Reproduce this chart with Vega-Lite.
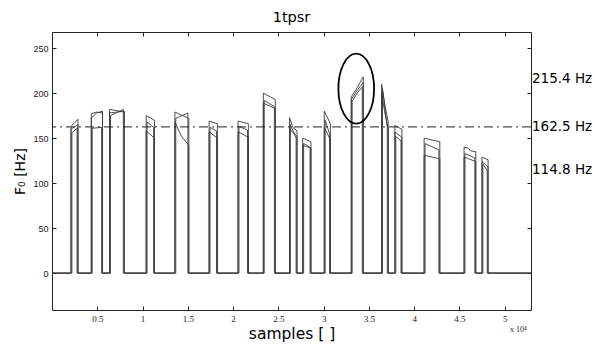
{
  "$schema": "https://vega.github.io/schema/vega-lite/v6.json",
  "width": 479,
  "height": 278,
  "autosize": {"type": "none"},
  "padding": {"left": 52, "top": 32, "right": 64, "bottom": 39},
  "background": "white",
  "title": {"text": "1tpsr", "font": "DejaVu Sans", "fontSize": 14.5, "fontWeight": "normal", "color": "#000", "offset": 6},
  "config": {
    "view": {"stroke": "#222", "strokeWidth": 1},
    "axis": {"grid": false, "tickColor": "#222", "domainColor": "#222", "labelColor": "#222", "titleColor": "#000", "titleFontWeight": "normal"}
  },
  "datasets": {
    "f0": [
      {"s":"a","x":0,"y":0},
      {"s":"a","x":0.21,"y":0},{"s":"a","x":0.21,"y":163},{"s":"a","x":0.287,"y":171},{"s":"a","x":0.287,"y":0},
      {"s":"a","x":0.434,"y":0},{"s":"a","x":0.434,"y":172},{"s":"a","x":0.49,"y":178},{"s":"a","x":0.558,"y":180},{"s":"a","x":0.558,"y":0},
      {"s":"a","x":0.636,"y":0},{"s":"a","x":0.636,"y":182},{"s":"a","x":0.798,"y":179},{"s":"a","x":0.798,"y":0},
      {"s":"a","x":1.04,"y":0},{"s":"a","x":1.04,"y":175},{"s":"a","x":1.132,"y":170},{"s":"a","x":1.132,"y":0},
      {"s":"a","x":1.357,"y":0},{"s":"a","x":1.357,"y":179},{"s":"a","x":1.511,"y":172},{"s":"a","x":1.511,"y":0},
      {"s":"a","x":1.735,"y":0},{"s":"a","x":1.735,"y":169},{"s":"a","x":1.827,"y":166},{"s":"a","x":1.827,"y":0},
      {"s":"a","x":2.055,"y":0},{"s":"a","x":2.055,"y":169},{"s":"a","x":2.169,"y":166},{"s":"a","x":2.169,"y":0},
      {"s":"a","x":2.334,"y":0},{"s":"a","x":2.334,"y":200},{"s":"a","x":2.466,"y":193},{"s":"a","x":2.466,"y":0},
      {"s":"a","x":2.623,"y":0},{"s":"a","x":2.623,"y":173},{"s":"a","x":2.66,"y":162},{"s":"a","x":2.706,"y":158},{"s":"a","x":2.706,"y":0},
      {"s":"a","x":2.769,"y":0},{"s":"a","x":2.769,"y":150},{"s":"a","x":2.86,"y":146},{"s":"a","x":2.86,"y":0},
      {"s":"a","x":3.007,"y":0},{"s":"a","x":3.007,"y":180},{"s":"a","x":3.075,"y":166},{"s":"a","x":3.075,"y":0},
      {"s":"a","x":3.305,"y":0},{"s":"a","x":3.305,"y":196},{"s":"a","x":3.37,"y":206},{"s":"a","x":3.437,"y":218},{"s":"a","x":3.437,"y":0},
      {"s":"a","x":3.64,"y":0},{"s":"a","x":3.64,"y":210},{"s":"a","x":3.68,"y":185},{"s":"a","x":3.713,"y":168},{"s":"a","x":3.713,"y":0},
      {"s":"a","x":3.787,"y":0},{"s":"a","x":3.787,"y":164},{"s":"a","x":3.864,"y":160},{"s":"a","x":3.864,"y":0},
      {"s":"a","x":4.11,"y":0},{"s":"a","x":4.11,"y":150},{"s":"a","x":4.283,"y":146},{"s":"a","x":4.283,"y":0},
      {"s":"a","x":4.551,"y":0},{"s":"a","x":4.551,"y":140},{"s":"a","x":4.6,"y":139},{"s":"a","x":4.62,"y":136},{"s":"a","x":4.68,"y":135},{"s":"a","x":4.68,"y":0},
      {"s":"a","x":4.749,"y":0},{"s":"a","x":4.749,"y":129},{"s":"a","x":4.816,"y":126},{"s":"a","x":4.816,"y":0},
      {"s":"a","x":5.29,"y":0},

      {"s":"b","x":0,"y":0},
      {"s":"b","x":0.22,"y":0},{"s":"b","x":0.22,"y":156},{"s":"b","x":0.277,"y":161},{"s":"b","x":0.277,"y":0},
      {"s":"b","x":0.444,"y":0},{"s":"b","x":0.444,"y":161},{"s":"b","x":0.548,"y":162},{"s":"b","x":0.548,"y":0},
      {"s":"b","x":0.646,"y":0},{"s":"b","x":0.646,"y":175},{"s":"b","x":0.788,"y":182},{"s":"b","x":0.788,"y":0},
      {"s":"b","x":1.05,"y":0},{"s":"b","x":1.05,"y":168},{"s":"b","x":1.122,"y":162},{"s":"b","x":1.122,"y":0},
      {"s":"b","x":1.367,"y":0},{"s":"b","x":1.367,"y":172},{"s":"b","x":1.501,"y":178},{"s":"b","x":1.501,"y":0},
      {"s":"b","x":1.745,"y":0},{"s":"b","x":1.745,"y":162},{"s":"b","x":1.817,"y":158},{"s":"b","x":1.817,"y":0},
      {"s":"b","x":2.065,"y":0},{"s":"b","x":2.065,"y":163},{"s":"b","x":2.159,"y":159},{"s":"b","x":2.159,"y":0},
      {"s":"b","x":2.344,"y":0},{"s":"b","x":2.344,"y":192},{"s":"b","x":2.456,"y":185},{"s":"b","x":2.456,"y":0},
      {"s":"b","x":2.633,"y":0},{"s":"b","x":2.633,"y":165},{"s":"b","x":2.696,"y":150},{"s":"b","x":2.696,"y":0},
      {"s":"b","x":2.779,"y":0},{"s":"b","x":2.779,"y":144},{"s":"b","x":2.85,"y":140},{"s":"b","x":2.85,"y":0},
      {"s":"b","x":3.017,"y":0},{"s":"b","x":3.017,"y":170},{"s":"b","x":3.065,"y":155},{"s":"b","x":3.065,"y":0},
      {"s":"b","x":3.315,"y":0},{"s":"b","x":3.315,"y":191},{"s":"b","x":3.37,"y":200},{"s":"b","x":3.427,"y":207},{"s":"b","x":3.427,"y":0},
      {"s":"b","x":3.65,"y":0},{"s":"b","x":3.65,"y":205},{"s":"b","x":3.68,"y":180},{"s":"b","x":3.703,"y":163},{"s":"b","x":3.703,"y":0},
      {"s":"b","x":3.797,"y":0},{"s":"b","x":3.797,"y":152},{"s":"b","x":3.854,"y":147},{"s":"b","x":3.854,"y":0},
      {"s":"b","x":4.12,"y":0},{"s":"b","x":4.12,"y":144},{"s":"b","x":4.273,"y":137},{"s":"b","x":4.273,"y":0},
      {"s":"b","x":4.561,"y":0},{"s":"b","x":4.561,"y":133},{"s":"b","x":4.67,"y":128},{"s":"b","x":4.67,"y":0},
      {"s":"b","x":4.759,"y":0},{"s":"b","x":4.759,"y":121},{"s":"b","x":4.806,"y":114},{"s":"b","x":4.806,"y":0},
      {"s":"b","x":5.29,"y":0},

      {"s":"c","x":0,"y":0},
      {"s":"c","x":0.21,"y":0},{"s":"c","x":0.21,"y":160},{"s":"c","x":0.287,"y":165},{"s":"c","x":0.287,"y":0},
      {"s":"c","x":0.434,"y":0},{"s":"c","x":0.434,"y":177},{"s":"c","x":0.49,"y":179},{"s":"c","x":0.558,"y":178},{"s":"c","x":0.558,"y":0},
      {"s":"c","x":0.636,"y":0},{"s":"c","x":0.636,"y":178},{"s":"c","x":0.798,"y":180},{"s":"c","x":0.798,"y":0},
      {"s":"c","x":1.04,"y":0},{"s":"c","x":1.04,"y":158},{"s":"c","x":1.132,"y":150},{"s":"c","x":1.132,"y":0},
      {"s":"c","x":1.357,"y":0},{"s":"c","x":1.357,"y":168},{"s":"c","x":1.43,"y":152},{"s":"c","x":1.511,"y":142},{"s":"c","x":1.511,"y":0},
      {"s":"c","x":1.735,"y":0},{"s":"c","x":1.735,"y":157},{"s":"c","x":1.827,"y":150},{"s":"c","x":1.827,"y":0},
      {"s":"c","x":2.055,"y":0},{"s":"c","x":2.055,"y":157},{"s":"c","x":2.169,"y":151},{"s":"c","x":2.169,"y":0},
      {"s":"c","x":2.334,"y":0},{"s":"c","x":2.334,"y":189},{"s":"c","x":2.466,"y":183},{"s":"c","x":2.466,"y":0},
      {"s":"c","x":2.623,"y":0},{"s":"c","x":2.623,"y":160},{"s":"c","x":2.706,"y":152},{"s":"c","x":2.706,"y":0},
      {"s":"c","x":2.769,"y":0},{"s":"c","x":2.769,"y":142},{"s":"c","x":2.86,"y":139},{"s":"c","x":2.86,"y":0},
      {"s":"c","x":3.007,"y":0},{"s":"c","x":3.007,"y":162},{"s":"c","x":3.075,"y":148},{"s":"c","x":3.075,"y":0},
      {"s":"c","x":3.305,"y":0},{"s":"c","x":3.305,"y":193},{"s":"c","x":3.37,"y":203},{"s":"c","x":3.437,"y":212},{"s":"c","x":3.437,"y":0},
      {"s":"c","x":3.64,"y":0},{"s":"c","x":3.64,"y":200},{"s":"c","x":3.68,"y":176},{"s":"c","x":3.713,"y":160},{"s":"c","x":3.713,"y":0},
      {"s":"c","x":3.787,"y":0},{"s":"c","x":3.787,"y":157},{"s":"c","x":3.864,"y":151},{"s":"c","x":3.864,"y":0},
      {"s":"c","x":4.11,"y":0},{"s":"c","x":4.11,"y":131},{"s":"c","x":4.283,"y":127},{"s":"c","x":4.283,"y":0},
      {"s":"c","x":4.551,"y":0},{"s":"c","x":4.551,"y":129},{"s":"c","x":4.68,"y":124},{"s":"c","x":4.68,"y":0},
      {"s":"c","x":4.749,"y":0},{"s":"c","x":4.749,"y":124},{"s":"c","x":4.816,"y":118},{"s":"c","x":4.816,"y":0},
      {"s":"c","x":5.29,"y":0}
    ],
    "levels": [
      {"label": "215.4 Hz", "v": 215.4},
      {"label": "162.5 Hz", "v": 162.5},
      {"label": "114.8 Hz", "v": 114.8}
    ],
    "threshold": [{"v": 162.5}],
    "note": [{"t": "x 10\u2074", "x": 5.15, "y": -63}],
    "circle": [{"x": 3.36, "y": 205}]
  },
  "resolve": {"axis": {"x": "independent", "y": "independent"}},
  "layer": [
    {
      "data": {"name": "f0"},
      "mark": {"type": "line", "color": "#3a3a3a", "strokeWidth": 0.9, "interpolate": "linear"},
      "encoding": {
        "x": {"field": "x", "type": "quantitative",
              "scale": {"domain": [0, 5.29], "nice": false, "zero": false},
              "axis": {"orient": "bottom", "values": [0.5,1,1.5,2,2.5,3,3.5,4,4.5,5], "format": "~g",
                       "tickSize": -4, "labelFont": "Liberation Serif", "labelFontSize": 9, "labelPadding": 8,
                       "title": "samples [ ]", "titleFont": "DejaVu Sans", "titleFontSize": 15.5, "titlePadding": 3}},
        "y": {"field": "y", "type": "quantitative",
              "scale": {"domain": [-41, 268], "nice": false, "zero": false},
              "axis": {"orient": "left", "values": [0,50,100,150,200,250], "format": "d",
                       "tickSize": -4, "labelFont": "Liberation Sans", "labelFontSize": 9, "labelPadding": 8,
                       "title": "F\u2080 [Hz]", "titleFont": "DejaVu Sans", "titleFontSize": 14, "titlePadding": 5}},
        "detail": {"field": "s"},
        "order": {"value": null}
      }
    },
    {
      "data": {"name": "f0"},
      "mark": {"type": "point", "opacity": 0, "size": 1},
      "encoding": {
        "x": {"field": "x", "type": "quantitative",
              "axis": {"orient": "top", "values": [0.5,1,1.5,2,2.5,3,3.5,4,4.5,5], "labels": false, "tickSize": -4, "title": null, "domain": false}},
        "y": {"field": "y", "type": "quantitative",
              "axis": {"orient": "right", "values": [0,50,100,150,200,250], "labels": false, "tickSize": -4, "title": null, "domain": false}}
      }
    },
    {
      "data": {"name": "threshold"},
      "mark": {"type": "rule", "color": "#222", "strokeWidth": 1, "strokeDash": [9, 4, 2, 4]},
      "encoding": {"y": {"field": "v", "type": "quantitative", "axis": null}}
    },
    {
      "data": {"name": "levels"},
      "mark": {"type": "text", "align": "left", "baseline": "middle", "dx": 1, "font": "DejaVu Sans", "fontSize": 13.5, "color": "#000"},
      "encoding": {
        "x": {"datum": 5.29, "axis": null},
        "y": {"field": "v", "type": "quantitative", "axis": null},
        "text": {"field": "label"}
      }
    },
    {
      "data": {"name": "note"},
      "mark": {"type": "text", "align": "center", "baseline": "middle", "font": "Liberation Serif", "fontSize": 8, "color": "#222"},
      "encoding": {
        "x": {"field": "x", "type": "quantitative", "axis": null},
        "y": {"field": "y", "type": "quantitative", "axis": null},
        "text": {"field": "t"}
      }
    },
    {
      "data": {"name": "circle"},
      "mark": {"type": "point", "shape": "M0,-1A0.51,1,0,1,1,0,1A0.51,1,0,1,1,0,-1Z", "size": 4900, "filled": false, "stroke": "#000", "strokeWidth": 1.8, "opacity": 1},
      "encoding": {
        "x": {"field": "x", "type": "quantitative", "axis": null},
        "y": {"field": "y", "type": "quantitative", "axis": null}
      }
    }
  ]
}
